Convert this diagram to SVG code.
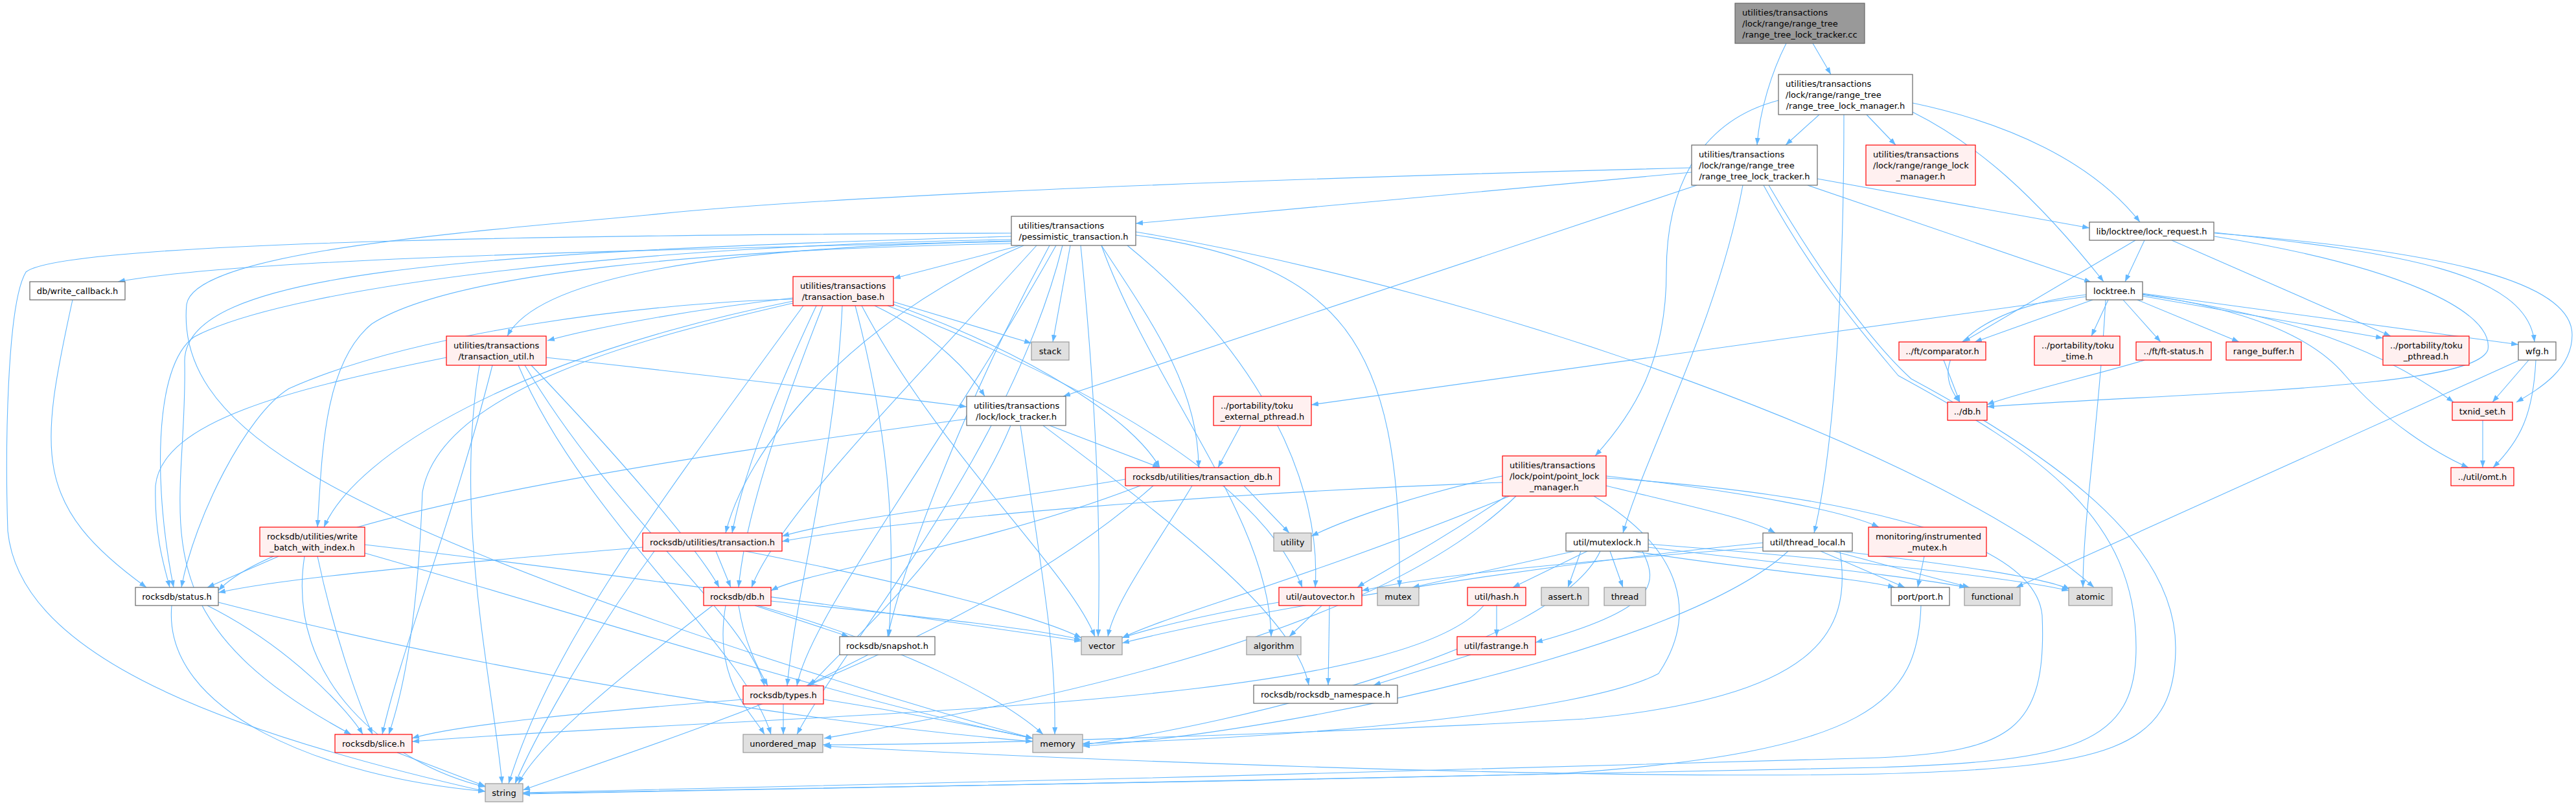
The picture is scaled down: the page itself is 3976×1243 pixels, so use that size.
<svg xmlns="http://www.w3.org/2000/svg" width="3976" height="1243" viewBox="0 0 3976 1243">
<style>
rect{stroke-width:1.2}
.w rect{fill:#ffffff;stroke:#666666}
.r rect{fill:#fff0f0;stroke:#ff0000}
.g rect{fill:#e0e0e0;stroke:#999999}
.root rect{fill:#999999;stroke:#666666}
text{font-family:"DejaVu Sans",sans-serif;font-size:13px;fill:#000000}
.c{text-anchor:middle}
#edges path{fill:none;stroke:#63b8ff;stroke-width:1.1;marker-end:url(#ah)}
</style>
<defs>
<marker id="ah" viewBox="0 0 11 8" refX="11" refY="4" markerWidth="11" markerHeight="8" markerUnits="userSpaceOnUse" orient="auto"><path d="M0,0 L11,4 L0,8 z" fill="#63b8ff"/></marker>
</defs>
<rect x="0" y="0" width="3976" height="1243" fill="#ffffff"/>
<g id="edges">
<path d="M2798,67 L2826,115"/>
<path d="M2757,67 C2735,110 2716,170 2712,224"/>
<path d="M2808,177 L2756,224"/>
<path d="M2881,177 L2926,224"/>
<path d="M2846,177 C2846,450 2830,700 2800,823"/>
<path d="M2745,155 C2630,185 2572,280 2572,420 C2572,560 2520,640 2462,704"/>
<path d="M2952,173 C3050,222 3140,300 3247,435"/>
<path d="M2952,159 C3100,190 3230,250 3303,343"/>
<path d="M2611,266 L1753,345"/>
<path d="M2805,276 L3225,352"/>
<path d="M2790,286 L3228,436"/>
<path d="M2619,286 L1641,612"/>
<path d="M2690,286 C2650,500 2540,700 2505,823"/>
<path d="M2611,259 C2000,275 1300,300 1000,332 C700,360 300,390 288,470 C280,560 330,640 460,720 C700,870 1300,1060 1594,1140"/>
<path d="M2722,286 C2800,430 2880,520 2930,580 C3150,700 3297,800 3297,1000 C3297,1150 3200,1175 2900,1185 C2500,1195 1200,1218 807,1226"/>
<path d="M2730,286 C2820,440 2900,540 2950,585 C3200,720 3358,850 3358,1000 C3358,1160 3250,1185 2900,1195 C2400,1205 1600,1170 1272,1152"/>
<path d="M3310,371 L3280,435"/>
<path d="M3296,371 L3030,528"/>
<path d="M3418,365 C3700,410 3850,480 3840,540 C3820,600 3400,605 3067,628"/>
<path d="M3352,371 L3690,519"/>
<path d="M3418,360 C3800,390 3970,440 3970,517 C3970,570 3920,600 3884,621"/>
<path d="M3418,359 C3700,390 3900,420 3912,528"/>
<path d="M3230,463 L3048,528"/>
<path d="M3254,463 L3228,519"/>
<path d="M3277,463 L3335,528"/>
<path d="M3220,455 C3080,470 2960,540 3025,621"/>
<path d="M3220,458 L2024,625"/>
<path d="M3306,457 L3678,522"/>
<path d="M3299,463 L3456,528"/>
<path d="M3306,453 L3887,532"/>
<path d="M3306,455 C3482,480 3650,520 3787,621"/>
<path d="M3306,454 C3470,478 3570,520 3620,580 C3680,650 3760,700 3810,722"/>
<path d="M3250,463 C3240,650 3215,800 3215,907"/>
<path d="M1561,372 C1100,385 400,395 182,435"/>
<path d="M1575,379 L1379,430"/>
<path d="M1561,373 C1100,380 830,430 783,519"/>
<path d="M1652,379 L1625,528"/>
<path d="M1700,379 C1780,600 1960,800 1962,983"/>
<path d="M1753,358 C2300,450 3000,700 3232,907"/>
<path d="M1753,363 C2065,408 2164,520 2160,907"/>
<path d="M1561,360 C1000,362 100,370 40,420 C10,470 8,700 12,820 C30,1000 300,1120 749,1222"/>
<path d="M1640,379 C1560,700 1300,1000 1230,1134"/>
<path d="M1668,379 C1690,600 1700,800 1695,983"/>
<path d="M1600,379 C1400,600 1200,800 1160,907"/>
<path d="M1561,365 C700,390 280,420 285,560 C290,800 200,950 542,1134"/>
<path d="M1620,379 C1500,600 1400,850 1370,983"/>
<path d="M1561,370 C1000,378 450,440 300,520 C235,565 238,760 268,907"/>
<path d="M1630,379 C1450,700 1250,950 1230,1059"/>
<path d="M1580,379 C1300,500 1150,700 1120,823"/>
<path d="M1700,379 C1780,500 1850,600 1850,722"/>
<path d="M1561,376 C1100,385 700,420 574,500 C500,560 497,700 490,814"/>
<path d="M1740,379 C1950,550 2040,750 2030,907"/>
<path d="M112,463 C60,700 50,780 226,907"/>
<path d="M1379,466 L1592,530"/>
<path d="M1240,472 C1000,800 850,1000 785,1210"/>
<path d="M1330,472 C1450,700 1650,880 1690,983"/>
<path d="M1270,472 C1200,650 1150,800 1140,907"/>
<path d="M1224,468 C1000,520 680,600 652,760 C645,950 625,1060 600,1134"/>
<path d="M1320,472 C1380,700 1380,850 1372,983"/>
<path d="M1224,462 C1000,467 640,513 446,600 C380,640 300,800 280,907"/>
<path d="M1300,472 C1290,700 1230,900 1215,1059"/>
<path d="M1260,472 C1200,600 1150,720 1130,823"/>
<path d="M1379,470 C1600,550 1750,650 1790,722"/>
<path d="M1224,465 C800,550 550,700 500,814"/>
<path d="M1370,472 C1700,600 1950,750 2010,907"/>
<path d="M1350,472 C1450,520 1500,580 1520,612"/>
<path d="M1224,460 C1050,480 900,510 845,526"/>
<path d="M740,564 C700,800 760,1050 775,1210"/>
<path d="M800,564 C900,800 1150,1000 1190,1134"/>
<path d="M820,564 C950,700 1080,850 1110,907"/>
<path d="M760,564 C700,800 620,1000 590,1134"/>
<path d="M689,552 C450,600 250,650 240,750 C238,830 255,880 262,907"/>
<path d="M810,564 C950,800 1150,950 1180,1059"/>
<path d="M843,552 C1100,580 1350,610 1492,628"/>
<path d="M3000,556 L3025,621"/>
<path d="M3310,556 C3250,575 3100,610 3067,625"/>
<path d="M3903,556 L3847,621"/>
<path d="M3914,556 C3910,640 3890,680 3848,722"/>
<path d="M3887,557 L3112,907"/>
<path d="M3832,649 L3832,722"/>
<path d="M1575,657 C1610,900 1630,1000 1628,1134"/>
<path d="M1610,657 C1800,800 2000,950 2020,1058"/>
<path d="M1492,647 C1100,700 450,790 337,912"/>
<path d="M1560,657 C1480,850 1300,1000 1250,1059"/>
<path d="M1620,657 L1790,722"/>
<path d="M1915,657 L1880,722"/>
<path d="M1780,750 C1500,1000 1000,1150 807,1220"/>
<path d="M1920,750 L1990,823"/>
<path d="M1840,750 C1780,850 1720,930 1710,983"/>
<path d="M1760,750 C1500,850 1250,880 1190,912"/>
<path d="M1737,740 C1500,780 1300,800 1207,828"/>
<path d="M2460,766 C2600,850 2620,950 2560,1040 C2450,1100 2000,1140 1671,1148"/>
<path d="M2479,738 C2800,760 3140,820 3152,950 C3160,1130 3100,1160 2900,1170 C2500,1185 1200,1215 807,1224"/>
<path d="M2340,766 C2100,1000 1500,1100 1272,1140"/>
<path d="M2319,735 C2200,760 2080,800 2024,828"/>
<path d="M2330,766 C2000,900 1800,950 1732,985"/>
<path d="M2479,735 C2700,760 2850,790 2900,814"/>
<path d="M2319,745 C1900,760 1400,800 1207,836"/>
<path d="M2325,766 C2200,850 2120,890 2095,907"/>
<path d="M2479,750 C2600,780 2700,800 2740,823"/>
<path d="M470,859 C440,1050 600,1180 749,1215"/>
<path d="M490,859 C520,1000 560,1100 575,1134"/>
<path d="M430,859 L320,907"/>
<path d="M563,841 C900,880 1400,950 1669,990"/>
<path d="M563,854 C900,950 1300,1080 1594,1140"/>
<path d="M1010,851 C900,1000 820,1150 795,1210"/>
<path d="M1150,851 C1400,900 1600,950 1669,985"/>
<path d="M1105,851 L1128,907"/>
<path d="M992,845 C700,870 450,890 337,915"/>
<path d="M2440,851 L2420,907"/>
<path d="M2544,840 C2800,860 3100,890 3193,912"/>
<path d="M2544,845 C2750,870 2950,890 3035,907"/>
<path d="M2470,851 C2400,1000 1900,1120 1671,1150"/>
<path d="M2430,851 L2180,907"/>
<path d="M2485,851 L2505,907"/>
<path d="M2520,851 C2700,880 2850,890 2925,907"/>
<path d="M2535,851 C2560,900 2560,940 2370,992"/>
<path d="M2450,851 L2335,907"/>
<path d="M2840,851 C3000,870 3150,890 3195,910"/>
<path d="M2830,851 L3040,907"/>
<path d="M2760,851 C2600,1000 2000,1130 1671,1152"/>
<path d="M2840,851 C2860,980 2800,1076 2446,1110 C2100,1130 1500,1150 1270,1150"/>
<path d="M2721,838 C2300,880 1900,950 1732,993"/>
<path d="M2810,851 L2940,907"/>
<path d="M2721,845 C2400,870 2200,890 2102,912"/>
<path d="M2970,859 L2960,907"/>
<path d="M337,930 C800,1050 1300,1120 1594,1145"/>
<path d="M265,935 C250,1100 500,1200 749,1222"/>
<path d="M320,935 C450,1000 540,1100 560,1134"/>
<path d="M1170,935 C1400,1000 1550,1080 1610,1134"/>
<path d="M1100,935 C950,1050 830,1150 800,1210"/>
<path d="M1120,935 C1100,1050 1160,1100 1180,1134"/>
<path d="M1190,928 C1400,950 1600,970 1669,988"/>
<path d="M1165,935 L1310,983"/>
<path d="M1140,935 C1150,1000 1175,1040 1185,1059"/>
<path d="M2040,935 L1990,983"/>
<path d="M1974,930 C1850,950 1760,975 1732,985"/>
<path d="M2052,935 L2050,1058"/>
<path d="M2290,935 C2150,1100 1200,1100 636,1145"/>
<path d="M2310,935 L2310,983"/>
<path d="M2965,935 C2960,1080 2893,1163 2400,1195 C1800,1210 1000,1220 807,1225"/>
<path d="M1340,1011 L1245,1059"/>
<path d="M2270,1011 L2120,1058"/>
<path d="M1271,1080 C1400,1100 1550,1130 1594,1140"/>
<path d="M1209,1087 L1209,1134"/>
<path d="M1147,1080 C900,1100 700,1120 636,1140"/>
<path d="M613,1162 L749,1214"/>
</g>
<g id="n_cc" class="root"><rect x="2678" y="5" width="200" height="62"/><text x="2689" y="23.5">utilities/transactions</text><text x="2689" y="40.5">/lock/range/range_tree</text><text class="c" x="2778" y="57.5">/range_tree_lock_tracker.cc</text></g>
<g id="n_rtlm" class="w"><rect x="2745" y="115" width="207" height="62"/><text x="2756" y="133.5">utilities/transactions</text><text x="2756" y="150.5">/lock/range/range_tree</text><text class="c" x="2848.5" y="167.5">/range_tree_lock_manager.h</text></g>
<g id="n_rtlt" class="w"><rect x="2611" y="224" width="194" height="62"/><text x="2622" y="242.5">utilities/transactions</text><text x="2622" y="259.5">/lock/range/range_tree</text><text class="c" x="2708" y="276.5">/range_tree_lock_tracker.h</text></g>
<g id="n_rlm" class="r"><rect x="2880" y="224" width="169" height="62"/><text x="2891" y="242.5">utilities/transactions</text><text x="2891" y="259.5">/lock/range/range_lock</text><text class="c" x="2964.5" y="276.5">_manager.h</text></g>
<g id="n_lockreq" class="w"><rect x="3225" y="343" width="192" height="28"/><text class="c" x="3321" y="361.5">lib/locktree/lock_request.h</text></g>
<g id="n_pess" class="w"><rect x="1561" y="334" width="192" height="45"/><text x="1572" y="352.5">utilities/transactions</text><text class="c" x="1657" y="369.5">/pessimistic_transaction.h</text></g>
<g id="n_wcb" class="w"><rect x="46" y="435" width="147" height="28"/><text class="c" x="119.5" y="453.5">db/write_callback.h</text></g>
<g id="n_tbase" class="r"><rect x="1224" y="427" width="155" height="45"/><text x="1235" y="445.5">utilities/transactions</text><text class="c" x="1301.5" y="462.5">/transaction_base.h</text></g>
<g id="n_locktree" class="w"><rect x="3220" y="435" width="87" height="28"/><text class="c" x="3263.5" y="453.5">locktree.h</text></g>
<g id="n_stack" class="g"><rect x="1592" y="528" width="58" height="28"/><text class="c" x="1621" y="546.5">stack</text></g>
<g id="n_tutil" class="r"><rect x="689" y="519" width="154" height="45"/><text x="700" y="537.5">utilities/transactions</text><text class="c" x="766" y="554.5">/transaction_util.h</text></g>
<g id="n_comparator" class="r"><rect x="2931" y="528" width="134" height="28"/><text class="c" x="2998" y="546.5">../ft/comparator.h</text></g>
<g id="n_tokutime" class="r"><rect x="3140" y="519" width="132" height="45"/><text x="3151" y="537.5">../portability/toku</text><text class="c" x="3206" y="554.5">_time.h</text></g>
<g id="n_ftstatus" class="r"><rect x="3297" y="528" width="116" height="28"/><text class="c" x="3355" y="546.5">../ft/ft-status.h</text></g>
<g id="n_rangebuf" class="r"><rect x="3436" y="528" width="116" height="28"/><text class="c" x="3494" y="546.5">range_buffer.h</text></g>
<g id="n_tokupthread" class="r"><rect x="3678" y="519" width="133" height="45"/><text x="3689" y="537.5">../portability/toku</text><text class="c" x="3744.5" y="554.5">_pthread.h</text></g>
<g id="n_wfg" class="w"><rect x="3887" y="528" width="58" height="28"/><text class="c" x="3916" y="546.5">wfg.h</text></g>
<g id="n_dbh_lt" class="r"><rect x="3006" y="621" width="61" height="28"/><text class="c" x="3036.5" y="639.5">../db.h</text></g>
<g id="n_txnid" class="r"><rect x="3785" y="621" width="93" height="28"/><text class="c" x="3831.5" y="639.5">txnid_set.h</text></g>
<g id="n_omt" class="r"><rect x="3783" y="722" width="97" height="28"/><text class="c" x="3831.5" y="740.5">../util/omt.h</text></g>
<g id="n_locktracker" class="w"><rect x="1492" y="612" width="153" height="45"/><text x="1503" y="630.5">utilities/transactions</text><text class="c" x="1568.5" y="647.5">/lock/lock_tracker.h</text></g>
<g id="n_tokuext" class="r"><rect x="1873" y="612" width="151" height="45"/><text x="1884" y="630.5">../portability/toku</text><text class="c" x="1948.5" y="647.5">_external_pthread.h</text></g>
<g id="n_tdb" class="r"><rect x="1737" y="722" width="238" height="28"/><text class="c" x="1856" y="740.5">rocksdb/utilities/transaction_db.h</text></g>
<g id="n_plm" class="r"><rect x="2319" y="704" width="160" height="62"/><text x="2330" y="722.5">utilities/transactions</text><text x="2330" y="739.5">/lock/point/point_lock</text><text class="c" x="2399" y="756.5">_manager.h</text></g>
<g id="n_wbwi" class="r"><rect x="401" y="814" width="162" height="45"/><text x="412" y="832.5">rocksdb/utilities/write</text><text class="c" x="482" y="849.5">_batch_with_index.h</text></g>
<g id="n_txn" class="r"><rect x="992" y="823" width="215" height="28"/><text class="c" x="1099.5" y="841.5">rocksdb/utilities/transaction.h</text></g>
<g id="n_utility" class="g"><rect x="1966" y="823" width="58" height="28"/><text class="c" x="1995" y="841.5">utility</text></g>
<g id="n_mutexlock" class="w"><rect x="2417" y="823" width="127" height="28"/><text class="c" x="2480.5" y="841.5">util/mutexlock.h</text></g>
<g id="n_threadlocal" class="w"><rect x="2721" y="823" width="138" height="28"/><text class="c" x="2790" y="841.5">util/thread_local.h</text></g>
<g id="n_imutex" class="r"><rect x="2884" y="814" width="182" height="45"/><text x="2895" y="832.5">monitoring/instrumented</text><text class="c" x="2975" y="849.5">_mutex.h</text></g>
<g id="n_status" class="w"><rect x="209" y="907" width="128" height="28"/><text class="c" x="273" y="925.5">rocksdb/status.h</text></g>
<g id="n_dbh" class="r"><rect x="1086" y="907" width="104" height="28"/><text class="c" x="1138" y="925.5">rocksdb/db.h</text></g>
<g id="n_autovector" class="r"><rect x="1974" y="907" width="128" height="28"/><text class="c" x="2038" y="925.5">util/autovector.h</text></g>
<g id="n_mutex" class="g"><rect x="2126" y="907" width="64" height="28"/><text class="c" x="2158" y="925.5">mutex</text></g>
<g id="n_hash" class="r"><rect x="2265" y="907" width="90" height="28"/><text class="c" x="2310" y="925.5">util/hash.h</text></g>
<g id="n_assert" class="g"><rect x="2379" y="907" width="73" height="28"/><text class="c" x="2415.5" y="925.5">assert.h</text></g>
<g id="n_thread" class="g"><rect x="2476" y="907" width="64" height="28"/><text class="c" x="2508" y="925.5">thread</text></g>
<g id="n_port" class="w"><rect x="2919" y="907" width="90" height="28"/><text class="c" x="2964" y="925.5">port/port.h</text></g>
<g id="n_functional" class="g"><rect x="3032" y="907" width="86" height="28"/><text class="c" x="3075" y="925.5">functional</text></g>
<g id="n_atomic" class="g"><rect x="3193" y="907" width="67" height="28"/><text class="c" x="3226.5" y="925.5">atomic</text></g>
<g id="n_snapshot" class="w"><rect x="1296" y="983" width="147" height="28"/><text class="c" x="1369.5" y="1001.5">rocksdb/snapshot.h</text></g>
<g id="n_vector" class="g"><rect x="1669" y="983" width="63" height="28"/><text class="c" x="1700.5" y="1001.5">vector</text></g>
<g id="n_algorithm" class="g"><rect x="1924" y="983" width="84" height="28"/><text class="c" x="1966" y="1001.5">algorithm</text></g>
<g id="n_fastrange" class="r"><rect x="2249" y="983" width="121" height="28"/><text class="c" x="2309.5" y="1001.5">util/fastrange.h</text></g>
<g id="n_types" class="r"><rect x="1147" y="1059" width="124" height="28"/><text class="c" x="1209" y="1077.5">rocksdb/types.h</text></g>
<g id="n_rns" class="w"><rect x="1935" y="1058" width="222" height="28"/><text class="c" x="2046" y="1076.5">rocksdb/rocksdb_namespace.h</text></g>
<g id="n_slice" class="r"><rect x="517" y="1134" width="119" height="28"/><text class="c" x="576.5" y="1152.5">rocksdb/slice.h</text></g>
<g id="n_umap" class="g"><rect x="1147" y="1134" width="123" height="28"/><text class="c" x="1208.5" y="1152.5">unordered_map</text></g>
<g id="n_memory" class="g"><rect x="1594" y="1134" width="77" height="28"/><text class="c" x="1632.5" y="1152.5">memory</text></g>
<g id="n_string" class="g"><rect x="749" y="1210" width="58" height="28"/><text class="c" x="778" y="1228.5">string</text></g>
</svg>
